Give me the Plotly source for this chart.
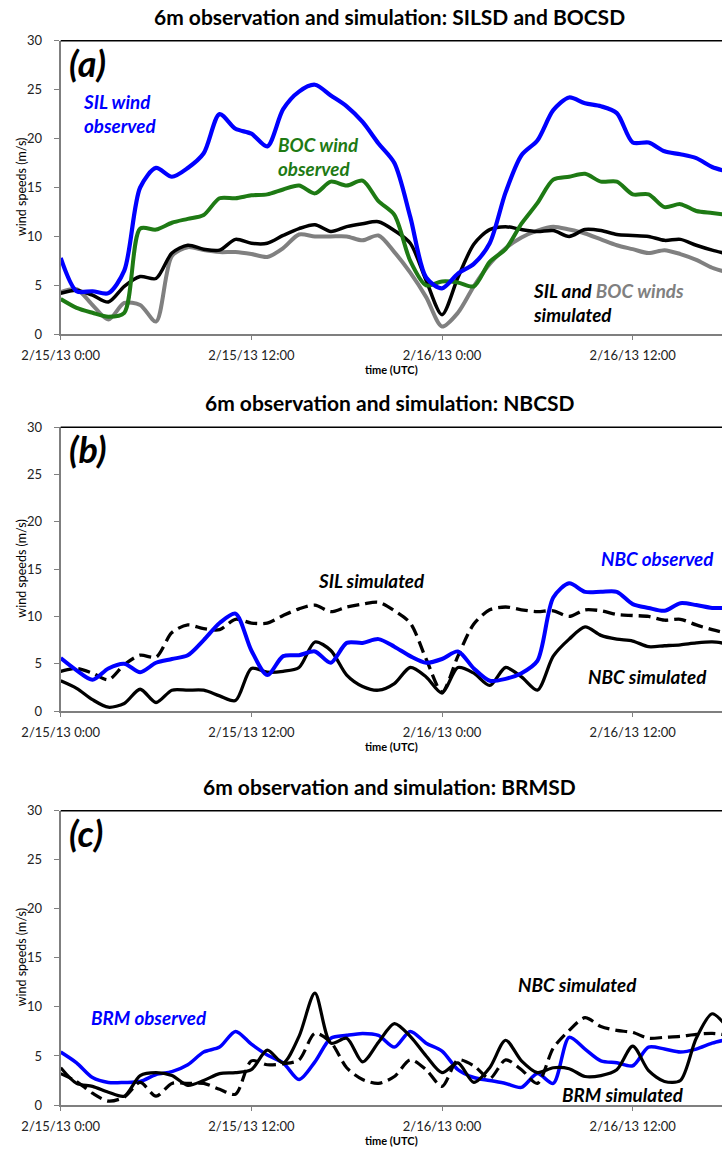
import plotly.graph_objects as go
from datetime import datetime, timedelta

# ---------------- data (hourly, starting 2/15/13 0:00 UTC) ----------------
hours = list(range(43))
base = datetime(2013, 2, 15)
times = [base + timedelta(hours=h) for h in hours]

sil_observed = [7.8, 4.4, 4.4, 4.2, 6.5, 15.0, 17.0, 16.1, 17.0, 18.5, 22.5, 21.0, 20.5, 19.2,
                23.0, 24.8, 25.5, 24.4, 23.3, 21.7, 19.5, 17.5, 12.0, 5.8, 4.7, 6.2, 7.2, 9.3,
                14.5, 18.3, 19.8, 22.9, 24.2, 23.6, 23.3, 22.6, 19.6, 19.6, 18.7, 18.4, 18.0,
                17.1, 16.6]
boc_observed = [3.6, 2.7, 2.2, 1.8, 2.2, 10.8, 10.7, 11.4, 11.8, 12.2, 13.9, 13.9, 14.2, 14.3,
                14.8, 15.2, 14.4, 15.6, 15.2, 15.7, 13.6, 12.2, 7.5, 5.0, 5.4, 5.3, 4.9, 7.4,
                8.7, 11.3, 13.4, 15.8, 16.1, 16.4, 15.6, 15.6, 14.3, 14.3, 13.0, 13.3, 12.6,
                12.4, 12.2]
sil_simulated = [4.2, 4.5, 4.0, 3.3, 4.9, 5.9, 5.7, 8.3, 9.1, 8.7, 8.6, 9.7, 9.3, 9.3,
                 10.1, 10.8, 11.2, 10.5, 11.0, 11.3, 11.5, 10.6, 9.3, 5.5, 2.0, 5.8, 9.2, 10.7,
                 11.0, 10.7, 10.5, 10.6, 10.0, 10.7, 10.6, 10.2, 10.1, 10.0, 9.6, 9.7, 9.1,
                 8.6, 8.2]
boc_simulated = [4.3, 4.6, 3.0, 1.5, 3.2, 3.0, 1.3, 8.0, 8.9, 8.6, 8.4, 8.4, 8.2, 7.9,
                 8.8, 10.2, 10.0, 10.0, 10.0, 9.6, 10.1, 8.4, 6.3, 3.8, 0.8, 2.2, 4.9, 7.2,
                 8.8, 9.9, 10.6, 11.0, 10.7, 10.3, 9.7, 9.1, 8.7, 8.3, 8.6, 8.2, 7.6, 6.8, 6.3]
nbc_observed = [5.6, 4.3, 3.3, 4.5, 5.0, 4.1, 5.1, 5.5, 5.9, 7.5, 9.3, 10.3, 6.4, 3.8,
                5.8, 5.9, 6.3, 5.1, 7.2, 7.2, 7.6, 6.8, 5.8, 5.1, 5.5, 6.3, 4.5, 3.2,
                3.4, 4.0, 5.3, 12.0, 13.5, 12.6, 12.6, 12.6, 11.3, 10.9, 10.6, 11.4, 11.2,
                10.9, 10.9]
nbc_simulated = [3.2, 2.4, 1.2, 0.4, 0.8, 2.3, 0.9, 2.2, 2.2, 2.2, 1.6, 1.1, 4.5, 4.1,
                 4.2, 4.6, 7.3, 6.4, 3.8, 2.6, 2.2, 2.9, 4.6, 3.6, 1.9, 4.6, 4.0, 2.7,
                 4.6, 3.6, 2.2, 5.8, 7.6, 8.9, 8.0, 7.6, 7.4, 6.8, 6.9, 7.0, 7.2, 7.3, 7.1]
brm_observed = [5.4, 4.3, 2.8, 2.3, 2.3, 2.4, 3.1, 3.4, 4.1, 5.4, 5.9, 7.5, 6.2, 5.1,
                4.3, 2.6, 4.4, 6.8, 7.1, 7.3, 7.1, 5.9, 7.5, 6.3, 5.5, 3.6, 2.8, 2.5,
                2.2, 1.8, 3.2, 2.2, 6.9, 5.7, 4.5, 4.3, 4.0, 5.9, 5.7, 5.4, 5.7, 6.3, 6.7]
brm_simulated = [3.8, 2.2, 1.9, 1.3, 0.9, 3.0, 3.3, 3.0, 2.0, 2.5, 3.2, 3.3, 3.6, 5.6,
                 4.3, 7.0, 11.4, 6.3, 6.8, 4.4, 6.4, 8.3, 7.0, 5.0, 3.3, 4.3, 2.3, 3.8,
                 6.6, 4.5, 3.3, 3.8, 3.7, 2.9, 3.0, 3.6, 6.0, 3.5, 2.4, 2.5, 6.8, 9.3, 7.8]

tick_hours = [0, 12, 24, 36]
tick_labels = ["2/15/13 0:00", "2/15/13 12:00", "2/16/13 0:00", "2/16/13 12:00"]
y_ticks = [0, 5, 10, 15, 20, 25, 30]

panel_titles = ["6m observation and simulation: SILSD and BOCSD",
                "6m observation and simulation: NBCSD",
                "6m observation and simulation: BRMSD"]

# ---------------- styling ----------------
W, H = 722, 1151
FONT = "Lato, 'Open Sans', sans-serif"
BLUE = "#0000FF"
GREEN = "#1E7A14"
GRAY = "#808080"
BLACK = "#000000"
AXIS_GRAY = "#7F7F7F"

X_LEFT = 60.7
# panel vertical pixel extents (top=30, bottom=0)
panels_px = [(40.7, 334.3), (427.3, 711.0), (810.7, 1105.0)]


def py2paper(py):
    return 1 - py / H


def px2paper(px):
    return px / W


fig = go.Figure()


def add_line(xa, ya, y, color, width, dash="solid"):
    fig.add_trace(go.Scatter(
        x=times, y=y, mode="lines", xaxis=xa, yaxis=ya,
        line=dict(color=color, width=width, dash=dash, shape="spline", smoothing=0.8),
        showlegend=False, hoverinfo="skip"))


# panel (a)
add_line("x", "y", boc_simulated, GRAY, 4)
add_line("x", "y", sil_simulated, BLACK, 3.5)
add_line("x", "y", boc_observed, GREEN, 4)
add_line("x", "y", sil_observed, BLUE, 4.2)
# panel (b)
add_line("x2", "y2", sil_simulated, BLACK, 3.3, "12px,6px")
add_line("x2", "y2", nbc_simulated, BLACK, 3.3)
add_line("x2", "y2", nbc_observed, BLUE, 4)
# panel (c)
add_line("x3", "y3", brm_observed, BLUE, 3.5)
add_line("x3", "y3", nbc_simulated, BLACK, 3.2, "12px,6px")
add_line("x3", "y3", brm_simulated, BLACK, 3.2)

x_range = [base, base + timedelta(hours=41.62)]
tickvals = [base + timedelta(hours=h) for h in tick_hours]

layout = dict(
    width=W, height=H,
    margin=dict(l=0, r=0, t=0, b=0),
    paper_bgcolor="white", plot_bgcolor="white",
    font=dict(family=FONT, color="#222222"),
    showlegend=False,
)

annotations = []
shapes = []
for i, (top, bot) in enumerate(panels_px):
    sfx = "" if i == 0 else str(i + 1)
    layout["xaxis" + sfx] = dict(
        domain=[px2paper(X_LEFT), 1], anchor="y" + sfx, range=x_range,
        tickvals=tickvals, ticktext=tick_labels, ticks="outside", ticklen=4,
        tickcolor=AXIS_GRAY, tickwidth=1, showline=True, linecolor=AXIS_GRAY,
        linewidth=2, showgrid=False, zeroline=False, automargin=False,
        tickfont=dict(size=13, family=FONT, color="#222222"), ticklabelstandoff=4)
    layout["yaxis" + sfx] = dict(
        domain=[py2paper(bot), py2paper(top)], anchor="x" + sfx, range=[0, 30],
        tickvals=y_ticks, ticks="outside", ticklen=5, tickcolor=AXIS_GRAY, tickwidth=1,
        showline=True, linecolor=AXIS_GRAY, linewidth=2, showgrid=False,
        zeroline=False, automargin=False,
        tickfont=dict(size=13, family=FONT, color="#222222"), ticklabelstandoff=9)
    # top border of plot area
    shapes.append(dict(type="line", xref="x" + sfx + " domain", yref="y" + sfx + " domain",
                       x0=0, x1=1, y0=1, y1=1, line=dict(color=BLACK, width=1.5)))
    # y axis title
    annotations.append(dict(text="wind speeds (m/s)", x=px2paper(21.5),
                            y=py2paper((top + bot) / 2), xref="paper", yref="paper",
                            xanchor="center", yanchor="middle",
                            textangle=-90, showarrow=False,
                            font=dict(size=12.5, family=FONT, color=BLACK)))
    # x axis title
    annotations.append(dict(text="<b>time (UTC)</b>", x=px2paper(391),
                            y=py2paper(bot + 35.5), xref="paper", yref="paper",
                            xanchor="center", yanchor="middle",
                            showarrow=False, font=dict(size=11, family=FONT, color=BLACK)))
    # panel title
    annotations.append(dict(text="<b>" + panel_titles[i] + "</b>", x=px2paper(390),
                            y=py2paper(top - 24.5), xref="paper", yref="paper",
                            xanchor="center", yanchor="middle",
                            showarrow=False, font=dict(size=21, family=FONT, color=BLACK)))
    # panel letter
    annotations.append(dict(text="<b><i>(" + "abc"[i] + ")</i></b>", x=px2paper(67),
                            y=py2paper(top + 22), xref="paper", yref="paper",
                            xanchor="left", yanchor="middle", showarrow=False,
                            font=dict(size=36, family=FONT, color=BLACK)))


def label(text, px, py, color, size=18.8):
    annotations.append(dict(text="<b><i>" + text + "</i></b>", x=px2paper(px),
                            y=py2paper(py), xref="paper", yref="paper", xanchor="left",
                            yanchor="middle", align="left", showarrow=False,
                            font=dict(size=size, family=FONT, color=color)))


label("SIL wind<br>observed", 81, 114, BLUE)
label("BOC wind<br>observed", 276, 157, GREEN)
label("SIL and <span style='color:" + GRAY + "'>BOC winds</span><br>simulated", 531, 302, BLACK)
label("SIL simulated", 316, 580, BLACK)
label("NBC observed", 599, 558, BLUE)
label("NBC simulated", 586, 676, BLACK)
label("BRM observed", 89, 1017, BLUE)
label("NBC simulated", 516, 984, BLACK)
label("BRM simulated", 560, 1094, BLACK)

layout["annotations"] = annotations
layout["shapes"] = shapes
fig.update_layout(**layout)

fig.write_html("out.html", config={"displayModeBar": False},
               post_script="document.body.style.margin='0px';")
